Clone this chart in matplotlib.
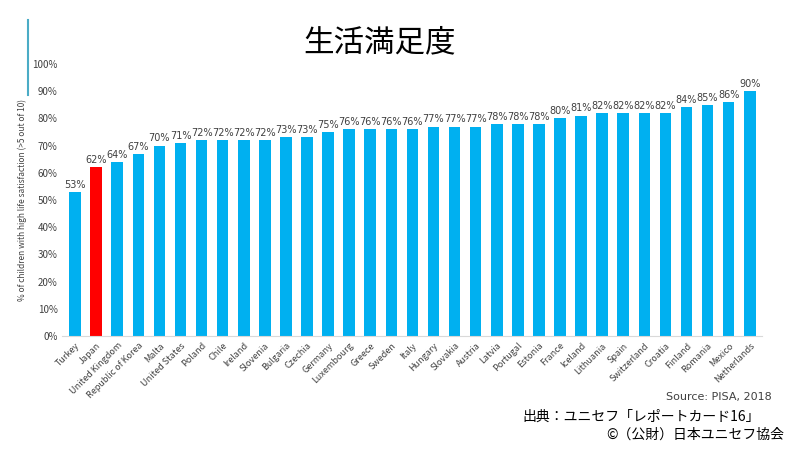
import matplotlib
matplotlib.use("Agg")
import matplotlib.pyplot as plt

plt.rcParams['font.family'] = ['Noto Sans CJK JP', 'DejaVu Sans']

countries = ["Turkey","Japan","United Kingdom","Republic of Korea","Malta","United States","Poland","Chile","Ireland","Slovenia","Bulgaria","Czechia","Germany","Luxembourg","Greece","Sweden","Italy","Hungary","Slovakia","Austria","Latvia","Portugal","Estonia","France","Iceland","Lithuania","Spain","Switzerland","Croatia","Finland","Romania","Mexico","Netherlands"]
values = [53,62,64,67,70,71,72,72,72,72,73,73,75,76,76,76,76,77,77,77,78,78,78,80,81,82,82,82,82,84,85,86,90]
yticks = [0,10,20,30,40,50,60,70,80,90,100]

fig = plt.figure(figsize=(8,4.5), dpi=100)
ax = fig.add_axes([0.078, 0.253, 0.875, 0.605])
colors = ['#ff0000' if c == "Japan" else '#00b0f0' for c in countries]
x = range(len(countries))
ax.bar(x, values, width=0.55, color=colors)
for i, v in zip(x, values):
    ax.text(i, v+0.8, f"{v}%", ha='center', va='bottom', fontsize=7, color='#404040', family='DejaVu Sans')
ax.set_ylim(0,100)
ax.set_xlim(-0.6, len(countries)-0.4)
ax.set_yticks(yticks)
ax.set_yticklabels([f"{t}%" for t in yticks], fontsize=7, color='#404040')
ax.set_xticks(list(x))
ax.set_xticklabels(countries, rotation=45, ha='right', rotation_mode='anchor', fontsize=6.5, color='#404040')
ax.tick_params(length=0)
for s in ['top','right','left']:
    ax.spines[s].set_visible(False)
ax.spines['bottom'].set_color('#d9d9d9')
ax.set_ylabel("% of children with high life satisfaction (>5 out of 10)", fontsize=6, color='#404040')

fig.text(0.475, 0.905, "生活満足度", ha='center', va='center', fontsize=22)
fig.add_artist(plt.Line2D([0.035,0.035],[0.79,0.955], color='#4bacc6', lw=1.5))
fig.text(0.965, 0.118, "Source: PISA, 2018", ha='right', va='center', fontsize=8, color='#404040', family='DejaVu Sans')
fig.text(0.95, 0.075, "出典：ユニセフ「レポートカード16」", ha='right', va='center', fontsize=10)
fig.text(0.98, 0.033, "©（公財）日本ユニセフ協会", ha='right', va='center', fontsize=10)
fig.savefig("out.png", dpi=100)
